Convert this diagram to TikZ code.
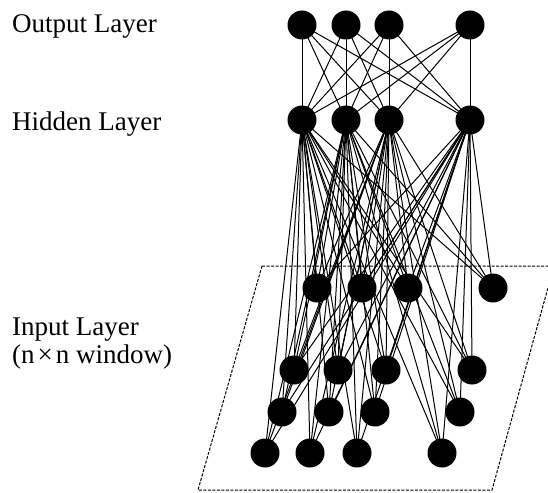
\documentclass[tikz,border=0pt]{standalone}
\usepackage{fontspec}
\setmainfont{Liberation Serif}
\pgfdeclarelayer{bg}
\pgfsetlayers{bg,main}
\begin{document}
\begin{tikzpicture}[x=1pt,y=-1pt,
  neuron/.style={circle,fill=black,inner sep=0pt,minimum size=29pt},
  link/.style={line width=1pt},
  frame/.style={line width=1pt,dash pattern=on 3pt off 1.5pt},
  lbl/.style={anchor=base west,inner sep=0pt,font=\fontsize{27}{28}\selectfont}]
\useasboundingbox (0,0) rectangle (548,492);
% labels
\node[lbl] (tout) at (12,33) {Output Layer};
\node[lbl] (thid) at (12,130) {Hidden Layer};
\node[lbl] (tin) at (12,335) {Input Layer};
\node[lbl] (twin) at (12,363) {(n\hspace{3pt}×\hspace{3pt}n window)};
% output and hidden layers
\foreach \x [count=\i] in {302,346,389,470} {
  \node[neuron] (o\i) at (\x,25) {};
  \node[neuron] (h\i) at (\x,120) {};
}
% input layer
\foreach \x [count=\i] in {317,362,408,493} \node[neuron] (i1\i) at (\x,288) {};
\foreach \x [count=\i] in {294,338,386,472} \node[neuron] (i2\i) at (\x,370) {};
\foreach \x [count=\i] in {282,329,375,460} \node[neuron] (i3\i) at (\x,412) {};
\foreach \x [count=\i] in {265,310,357,442} \node[neuron] (i4\i) at (\x,453) {};
% window frame
\coordinate (p1) at (262,266);
\coordinate (p2) at (554,266);
\coordinate (p3) at (492,490);
\coordinate (p4) at (198,490);
\begin{pgfonlayer}{bg}
\draw[frame] (p1) -- (p2) -- (p3) -- (p4) -- cycle;
\foreach \a in {1,...,4} {
  \foreach \b in {1,...,4} {
    \draw[link] (o\a.center) -- (h\b.center);
    \foreach \r in {1,...,4} \draw[link] (h\a.center) -- (i\r\b.center);
  }
}
\end{pgfonlayer}
\end{tikzpicture}
\end{document}
